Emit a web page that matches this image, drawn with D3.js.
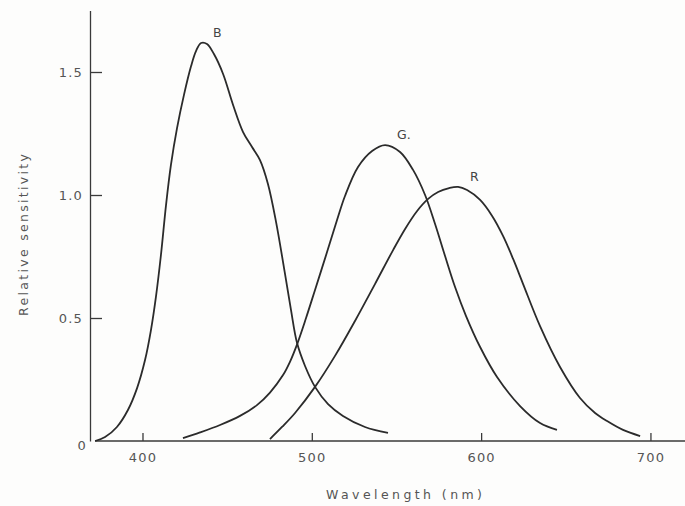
<!DOCTYPE html>
<html>
  <head>
    <meta charset="utf-8">
    <title>Relative sensitivity of the cones</title>
    <script src="https://cdn.jsdelivr.net/npm/d3@7"></script>
    <style>
      body { margin: 0; background: #fdfdfc; }
      svg { display: block; font-family: "DejaVu Sans", sans-serif; }
      .axis path, .axis line { stroke: #3a3a3a; stroke-width: 1.3; }
      .axis text { fill: #555; font-size: 13px; letter-spacing: 1.2px; font-family: "DejaVu Sans", sans-serif; }
      .axisLabel { fill: #555; font-size: 12.5px; }
      .curve { fill: none; stroke: #2b2b2b; stroke-width: 1.8; }
      .curveLabel { fill: #444; font-size: 12.5px; }
    </style>
  </head>

  <body>
    <svg id="chart" width="685" height="506"></svg>

    <script>
      // data
      const seriesNames = ["B", "G.", "R"];

      const blueWavelength = [372, 377.9, 384.9, 391.4, 396.8, 401.5, 405, 408, 410.9, 413.9, 416.8, 420.4, 424.5, 428.7, 431.6, 434.6, 438.1, 442.2, 447.6, 453.5, 459.4, 464.7, 469.4, 474.1, 478.9, 483.6, 487.7, 491.3, 496, 501.9, 509.6, 518.4, 531.4, 545];
      const blueSensitivity = [0, 0.016, 0.057, 0.126, 0.215, 0.329, 0.451, 0.589, 0.756, 0.959, 1.122, 1.272, 1.407, 1.524, 1.585, 1.618, 1.614, 1.573, 1.492, 1.366, 1.256, 1.195, 1.142, 1.045, 0.89, 0.703, 0.533, 0.398, 0.305, 0.22, 0.15, 0.102, 0.057, 0.033];

      const greenWavelength = [423.9, 434, 445.8, 457.6, 467.6, 475.3, 483, 487.1, 491.3, 496.6, 501.9, 509, 514.9, 519.6, 527.3, 535.6, 543.3, 552.1, 559.8, 566.9, 572.8, 578.7, 584.6, 591.1, 599.4, 609.4, 623, 634.8, 644.8];
      const greenSensitivity = [0.012, 0.035, 0.065, 0.102, 0.146, 0.197, 0.268, 0.322, 0.393, 0.5, 0.614, 0.768, 0.898, 0.996, 1.114, 1.179, 1.203, 1.175, 1.102, 1.0, 0.882, 0.752, 0.626, 0.508, 0.382, 0.26, 0.142, 0.073, 0.045];

      const redWavelength = [475.3, 482.4, 490.1, 501.9, 513.7, 525.5, 537.3, 548, 555.1, 562.2, 568.7, 574.6, 581.1, 586.4, 591.7, 599.4, 606.5, 613, 618.9, 624.8, 634.8, 646.6, 658.4, 667.3, 674.4, 683.8, 693.9];
      const redSensitivity = [0.008, 0.057, 0.114, 0.22, 0.346, 0.488, 0.638, 0.776, 0.862, 0.935, 0.984, 1.012, 1.028, 1.033, 1.02, 0.98, 0.915, 0.833, 0.74, 0.638, 0.467, 0.301, 0.175, 0.114, 0.081, 0.045, 0.02];

      const xTicks = [400, 500, 600, 700];
      const yTicks = [0, 0.5, 1.0, 1.5];

      // build series
      series = [
        [blueWavelength, blueSensitivity],
        [greenWavelength, greenSensitivity],
        [redWavelength, redSensitivity]
      ].map(function(s, i) {
        return {
          name: seriesNames[i],
          values: s[0].map(function(w, j) { return { w: w, v: s[1][j] }; })
        };
      });

      chart = d3.select("#chart");

      x = d3.scaleLinear()
        .domain([369, 721])
        .range([90, 686]);
      y = d3.scaleLinear()
        .domain([0, 1.75])
        .range([441, 441 - 1.75 * 246]);

      xAxis = d3.axisBottom(x)
        .tickValues(xTicks)
        .tickSizeInner(-8)
        .tickSizeOuter(0)
        .tickPadding(12)
        .tickFormat(d3.format("d"));
      yAxis = d3.axisLeft(y)
        .tickValues(yTicks)
        .tickSizeInner(-12)
        .tickSizeOuter(0)
        .tickPadding(7)
        .tickFormat(function(d) { return d === 0 ? "0" : d3.format(".1f")(d); });

      xAxisGroup = chart.append("g")
        .attr("class", "axis")
        .attr("transform", "translate(0," + y(0) + ")")
        .call(xAxis);
      xAxisGroup.select(".domain").attr("d", "M95,0H686");

      yAxisGroup = chart.append("g")
        .attr("class", "axis")
        .attr("transform", "translate(" + x(369) + ",0)")
        .call(yAxis);
      // origin label sits a little lower, without a tick
      yAxisGroup.selectAll(".tick")
        .filter(function(d) { return d === 0; })
        .each(function() {
          d3.select(this).select("line").remove();
          d3.select(this).select("text").attr("x", -3).attr("dy", "0.65em");
        });

      // axis labels
      chart.append("text")
        .attr("class", "axisLabel")
        .attr("x", 404)
        .attr("y", 499)
        .attr("text-anchor", "middle")
        .attr("textLength", 156)
        .attr("lengthAdjust", "spacing")
        .text("Wavelength (nm)");
      chart.append("text")
        .attr("class", "axisLabel")
        .attr("transform", "translate(28,235) rotate(-90)")
        .attr("text-anchor", "middle")
        .attr("textLength", 162)
        .attr("lengthAdjust", "spacing")
        .text("Relative sensitivity");

      // curves
      line = d3.line()
        .x(function(d) { return x(d.w); })
        .y(function(d) { return y(d.v); })
        .curve(d3.curveCatmullRom.alpha(0.5));

      curves = chart.selectAll(".curve")
        .data(series)
        .enter().append("path")
          .attr("class", "curve")
          .attr("d", function(d) { return line(d.values); });

      // labels next to each peak
      chart.selectAll(".curveLabel")
        .data(series)
        .enter().append("text")
          .attr("class", "curveLabel")
          .attr("x", function(d) {
            let peak = d3.greatest(d.values, function(p) { return p.v; });
            return x(peak.w) + 12;
          })
          .attr("y", function(d) {
            let peak = d3.greatest(d.values, function(p) { return p.v; });
            return y(peak.v) - 6;
          })
          .text(function(d) { return d.name; });
    </script>
  </body>
</html>
